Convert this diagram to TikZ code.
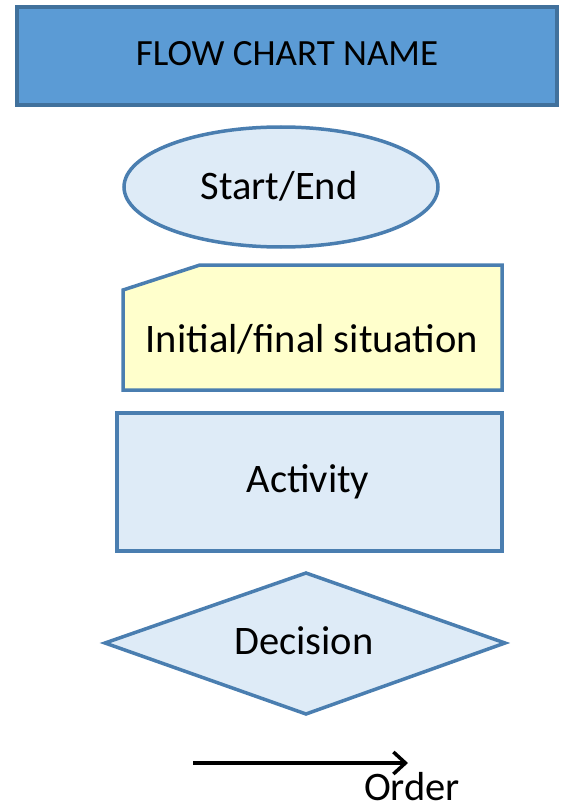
\documentclass[tikz,border=0pt]{standalone}
\usepackage{fontspec}
\setmainfont{Carlito}
\usetikzlibrary{shapes.geometric,arrows.meta}
\definecolor{titlefill}{HTML}{5B9BD5}
\definecolor{titleborder}{HTML}{41719C}
\definecolor{shapefill}{HTML}{DEEBF7}
\definecolor{shapeborder}{HTML}{4A7EB0}
\definecolor{cardfill}{HTML}{FFFFCC}
\tikzset{
  lbl/.style={font=\fontsize{40.5}{46}\selectfont, text=black},
  ttl/.style={font=\fontsize{37}{44}\selectfont, text=black},
  outl/.style={draw=shapeborder, line width=3.5pt, line join=miter},
}
\begin{document}
\begin{tikzpicture}[x=1pt,y=-1pt]
\useasboundingbox (0,0) rectangle (563,805);
% title
\draw[fill=titlefill, draw=titleborder, line width=3.5pt] (17,7) rectangle (557,105);
\node[ttl] (title) at (287,54) {FLOW CHART NAME};
% start/end ellipse
\draw[outl, fill=shapefill] (281,187) ellipse [x radius=157, y radius=60];
\node[lbl] (se) at (279,186) {Start/End};
% card
\draw[outl, fill=cardfill] (123,290) -- (200,265) -- (502,265) -- (502,390) -- (123,390) -- cycle;
\node[lbl] (card) at (312,339) {Initial/final situation};
% activity
\draw[outl, fill=shapefill] (117,413) rectangle (502,551);
\node[lbl] (act) at (308,482) {Activity};
% decision
\draw[outl, fill=shapefill] (105,643) -- (306,573) -- (505,643) -- (306,714) -- cycle;
\node[lbl] (dec) at (304,641) {Decision};
% order arrow
\coordinate (a1) at (193,763);
\coordinate (a2) at (408,763);
\draw[line width=3.5pt, -{Straight Barb[length=12pt,width=22pt]}] (a1) -- (a2);
\node[lbl, inner sep=0pt, anchor=base] (ord) at (412,800) {Order};
\end{tikzpicture}
\end{document}
